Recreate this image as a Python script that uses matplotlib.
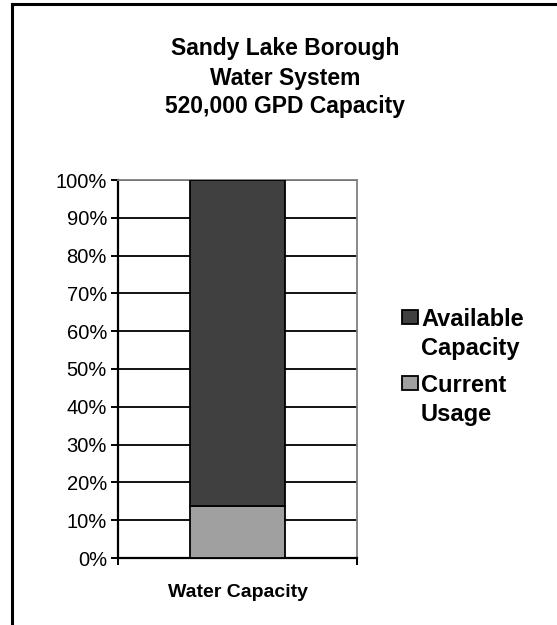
import matplotlib
matplotlib.use("Agg")
from matplotlib import pyplot as plt
from matplotlib.patches import Rectangle
from matplotlib.lines import Line2D

plt.rcParams["font.family"] = ["Liberation Sans", "DejaVu Sans"]

category = ["Water Capacity"]
current_usage = [13.7]
available_capacity = [86.3]
series_names = [["Available", "Capacity"], ["Current", "Usage"]]
series_colors = ["#404040", "#a0a0a0"]
title_lines = ["Sandy Lake Borough", "Water System", "520,000 GPD Capacity"]
y_ticks = list(range(0, 101, 10))

W, H = 557, 625
fig = plt.figure(figsize=(W / 100, H / 100), dpi=100)


def fx(px):
    return px / W


def fy(py):
    return 1 - py / H


# outer frame (top and left only)
fig.add_artist(Line2D([fx(12), 1], [fy(4), fy(4)], color="black", lw=2.2))
fig.add_artist(Line2D([fx(12), fx(12)], [fy(4), 0], color="black", lw=2.2))

ax = fig.add_axes([fx(118), fy(558), fx(357) - fx(118), fy(180) - fy(558)])

x = [0]
ax.bar(x, current_usage, width=0.395, color=series_colors[1],
       edgecolor="black", linewidth=1.3, zorder=3)
ax.bar(x, available_capacity, bottom=current_usage, width=0.395,
       color=series_colors[0], edgecolor="black", linewidth=1.3, zorder=3)

ax.set_xlim(-0.5, 0.5)
ax.set_ylim(0, 100)
ax.set_yticks(y_ticks)
ax.set_yticklabels([f"{t}%" for t in y_ticks], fontsize=14.5)
ax.yaxis.grid(True, color="black", linewidth=1.3)
ax.set_axisbelow(True)
ax.set_xticks([-0.5, 0.5])
ax.set_xticklabels(["", ""])
ax.tick_params(axis="both", direction="out", length=5, width=1.4, color="black")
ax.tick_params(axis="y", pad=3)
ax.set_xlabel(category[0], fontsize=14, fontweight="bold", labelpad=10)

for side in ["top", "right"]:
    ax.spines[side].set_color("#808080")
    ax.spines[side].set_linewidth(1.3)
for side in ["left", "bottom"]:
    ax.spines[side].set_linewidth(1.6)

for py, line in zip([55, 84.5, 113.5], title_lines):
    fig.text(fx(285), fy(py), line, ha="center", va="baseline",
             fontsize=16.5, fontweight="bold")

# legend
legend_rows = [(317, [319, 349], series_names[0], series_colors[0]),
               (383, [385, 414], series_names[1], series_colors[1])]
for py, text_ys, words, color in legend_rows:
    fig.add_artist(Rectangle((fx(402), fy(py + 7)), fx(16), fy(0) - fy(14),
                             facecolor=color, edgecolor="black", lw=1.3))
    for ty, word in zip(text_ys, words):
        fig.text(fx(421), fy(ty), word, ha="left", va="center",
                 fontsize=17, fontweight="bold")

fig.savefig("out.png", dpi=100)
